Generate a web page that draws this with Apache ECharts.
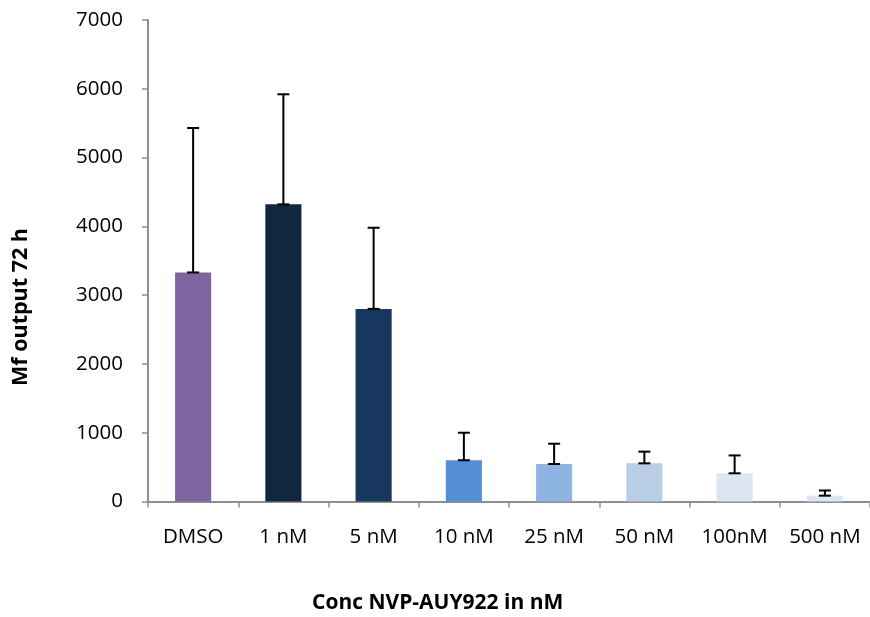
<!DOCTYPE html>
<html>
<head>
<meta charset="utf-8">
<script src="https://cdn.jsdelivr.net/npm/echarts@6/dist/echarts.min.js"></script>
<style>html,body{margin:0;padding:0;background:#fff}#c{width:870px;height:617px}</style>
</head>
<body>
<div id="c"></div>
<script>
const categories = ['DMSO', '1 nM', '5 nM', '10 nM', '25 nM', '50 nM', '100nM', '500 nM'];
const means = [3330, 4320, 2800, 600, 545, 555, 410, 85];
const sds = [2100, 1600, 1180, 400, 295, 170, 260, 75];
const colors = ['#8064A2', '#12263F', '#17375E', '#558ED5', '#8EB4E3', '#B9CDE5', '#DCE6F2', '#DCE6F2'];
const yTicks = [0, 1000, 2000, 3000, 4000, 5000, 6000, 7000];
const yTitle = 'Mf output 72 h';
const xTitle = 'Conc NVP-AUY922 in nM';

const FONT = 'Open Sans';
const chart = echarts.init(document.getElementById('c'), null, {renderer: 'canvas'});
const axisColor = '#8f8f8f';

const option = {
  animation: false,
  backgroundColor: '#fff',
  grid: {left: 148, right: 0, top: 20, bottom: 115.5, containLabel: false},
  xAxis: {
    type: 'category',
    data: categories,
    axisLine: {lineStyle: {color: axisColor, width: 2}},
    axisTick: {show: true, length: 6, alignWithLabel: false, lineStyle: {color: axisColor, width: 1.5}},
    axisLabel: {color: '#000', fontFamily: FONT, fontSize: 20.5, margin: 25, interval: 0},
    splitLine: {show: false}
  },
  yAxis: {
    type: 'value',
    min: yTicks[0],
    max: yTicks[yTicks.length - 1],
    interval: 1000,
    axisLine: {show: true, lineStyle: {color: axisColor, width: 2}},
    axisTick: {show: true, length: 6, lineStyle: {color: axisColor, width: 1.5}},
    axisLabel: {color: '#000', fontFamily: FONT, fontSize: 20.5, margin: 25, formatter: v => String(v)},
    splitLine: {show: false}
  },
  graphic: [{
    type: 'text',
    left: 312,
    top: 593,
    style: {text: xTitle, fill: '#000', font: 'bold 21px "' + FONT + '"'}
  }, {
    type: 'text',
    x: 21,
    y: 307,
    rotation: Math.PI / 2,
    style: {text: yTitle, fill: '#000', font: 'bold 21.5px "' + FONT + '"', align: 'center', verticalAlign: 'middle'}
  }],
  series: [
    {
      type: 'bar',
      barWidth: '40%',
      data: means.map((v, i) => ({value: v, itemStyle: {color: colors[i]}})),
      z: 2
    },
    {
      type: 'custom',
      z: 3,
      data: means.map((v, i) => [i, v, v + sds[i]]),
      renderItem: function (params, api) {
        const x = api.value(0);
        const lo = api.coord([x, api.value(1)]);
        const hi = api.coord([x, api.value(2)]);
        const hw = 6;
        const st = {stroke: '#000', lineWidth: 2};
        return {
          type: 'group',
          children: [
            {type: 'line', shape: {x1: lo[0], y1: lo[1], x2: hi[0], y2: hi[1]}, style: st},
            {type: 'line', shape: {x1: hi[0] - hw, y1: hi[1], x2: hi[0] + hw, y2: hi[1]}, style: st},
            {type: 'line', shape: {x1: lo[0] - hw, y1: lo[1], x2: lo[0] + hw, y2: lo[1]}, style: st}
          ]
        };
      }
    }
  ]
};
chart.setOption(option);
</script>
</body>
</html>
